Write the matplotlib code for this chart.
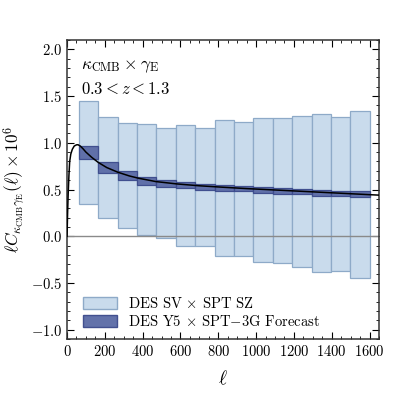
import numpy as np
import matplotlib.pyplot as plt
from matplotlib.patches import Patch
from matplotlib.ticker import MultipleLocator

plt.rcParams["font.family"] = "serif"
plt.rcParams["font.serif"] = ["cmr10", "DejaVu Serif"]
plt.rcParams["mathtext.fontset"] = "cm"
plt.rcParams["axes.formatter.use_mathtext"] = True

# bin edges in ell (15 bins)
ell_lo, ell_hi, n_bins = 62, 1601, 15

# DES SV x SPT SZ measurement boxes (bottom, top)
sv_low = [0.35, 0.20, 0.09, 0.01, -0.02, -0.10, -0.10, -0.21, -0.21, -0.27, -0.29, -0.33, -0.38, -0.37, -0.45]
sv_high = [1.45, 1.28, 1.21, 1.20, 1.16, 1.19, 1.16, 1.24, 1.22, 1.26, 1.26, 1.29, 1.31, 1.28, 1.34]

# DES Y5 x SPT-3G forecast boxes (bottom, top)
y5_low = [0.826, 0.681, 0.603, 0.553, 0.525, 0.511, 0.496, 0.486, 0.479, 0.468, 0.457, 0.447, 0.436, 0.429, 0.418]
y5_high = [0.968, 0.794, 0.699, 0.638, 0.606, 0.585, 0.564, 0.550, 0.539, 0.528, 0.518, 0.507, 0.496, 0.489, 0.479]

# theory curve
th_ell = [0, 3, 6, 10, 14, 20, 28, 38, 50, 58, 70, 85, 100, 130, 165, 210, 270, 330, 380, 470,
          580, 700, 820, 950, 1100, 1250, 1400, 1550, 1650]
th_val = [0.0, 0.25, 0.45, 0.65, 0.80, 0.88, 0.93, 0.965, 0.978, 0.979, 0.965, 0.935, 0.90, 0.845, 0.79,
          0.735, 0.684, 0.645, 0.62, 0.585, 0.56, 0.54, 0.525, 0.51, 0.495, 0.48, 0.465, 0.45, 0.44]

edges = np.linspace(ell_lo, ell_hi, n_bins + 1)
width = edges[1] - edges[0]

light_face = "#c9dbec"
light_edge = "#8eaac8"
dark_face = "#5b6aa6"
dark_edge = "#3c4b8c"

fig = plt.figure(figsize=(3.99, 3.99), dpi=100)
ax = fig.add_axes([0.168, 0.150, 0.782, 0.750])

sv_low = np.array(sv_low)
sv_high = np.array(sv_high)
y5_low = np.array(y5_low)
y5_high = np.array(y5_high)

ax.bar(edges[:-1], sv_high - sv_low, bottom=sv_low, width=width, align="edge",
       color=light_face, edgecolor=light_edge, lw=0.9, zorder=2)
ax.axhline(0, color="#8a8a8a", lw=1.0, zorder=2.5)
ax.bar(edges[:-1], y5_high - y5_low, bottom=y5_low, width=width, align="edge",
       color=dark_face, edgecolor=dark_edge, lw=0.9, alpha=0.95, zorder=3)

ax.plot(th_ell, th_val, color="black", lw=1.1, zorder=4)

ax.set_xlim(0, 1650)
ax.set_ylim(-1.1, 2.1)
ax.xaxis.set_major_locator(MultipleLocator(200))
ax.xaxis.set_minor_locator(MultipleLocator(50))
ax.yaxis.set_major_locator(MultipleLocator(0.5))
ax.yaxis.set_minor_locator(MultipleLocator(0.1))
ax.tick_params(which="both", direction="in", top=True, right=True, labelsize=10.5)
ax.tick_params(which="major", length=5)
ax.tick_params(which="minor", length=2.5)
for s in ax.spines.values():
    s.set_linewidth(1.1)
    s.set_color("#333333")

ax.set_xlabel(r"$\ell$", fontsize=14, labelpad=8)
ax.set_ylabel(r"$\ell C_{\kappa_{\rm CMB}\gamma_{\rm E}}(\ell)\times 10^6$", fontsize=12.5, labelpad=2)

ax.text(0.045, 0.91, r"$\kappa_{\rm CMB}\times\gamma_{\rm E}$", transform=ax.transAxes,
        fontsize=12.5, va="center")
ax.text(0.045, 0.835, r"$0.3 < z < 1.3$", transform=ax.transAxes, fontsize=12, va="center")

handles = [Patch(facecolor=light_face, edgecolor=light_edge),
           Patch(facecolor=dark_face, edgecolor=dark_edge, alpha=0.95)]
labels = [r"DES SV $\times$ SPT SZ", r"DES Y5 $\times$ SPT$-$3G Forecast"]
ax.legend(handles, labels, loc="lower left", frameon=False, fontsize=10.5,
          handlelength=2.3, handleheight=0.9, handletextpad=0.75, labelspacing=0.2,
          bbox_to_anchor=(0.01, -0.01))

fig.savefig("out.png", dpi=100)
